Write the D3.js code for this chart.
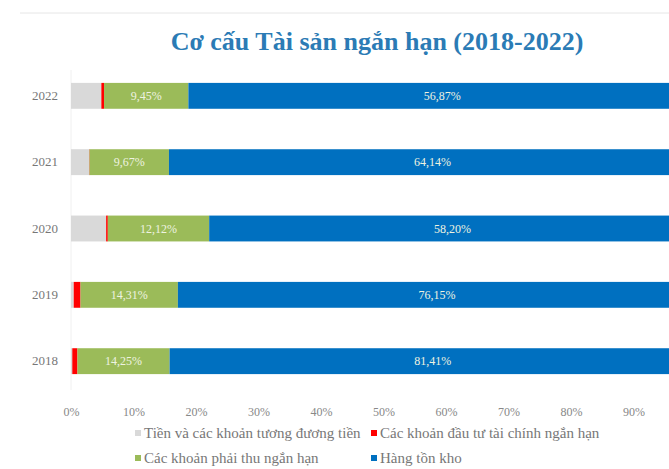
<html lang="vi">
<head>
<meta charset="utf-8">
<title>Cơ cấu Tài sản ngắn hạn</title>
<script src="https://d3js.org/d3.v7.min.js" charset="utf-8"></script>
<style>
  body { margin: 0; background: #fff; }
  svg text { font-family: "Liberation Serif", "Times New Roman", serif; }
</style>
</head>
<body>
<script>
// data (percent of total assets, other items left out)
var years = ["2022", "2021", "2020", "2019", "2018"]
var cash = [3.4, 2.2, 4.2, 0.4, 0.2]
var investments = [0.3, 0.05, 0.2, 1.0, 0.8]
var receivables = [9.45, 9.67, 12.12, 14.31, 14.25]
var inventory = [56.87, 64.14, 58.20, 76.15, 81.41]
var seriesNames = ["Tiền và các khoản tương đương tiền", "Các khoản đầu tư tài chính ngắn hạn",
                   "Các khoản phải thu ngắn hạn", "Hàng tồn kho"]
var colors = ["#d9d9d9", "#ff0000", "#9bbb59", "#0070c0"]
var tickValues = [0, 0.1, 0.2, 0.3, 0.4, 0.5, 0.6, 0.7, 0.8, 0.9]

var width = 669
var height = 469
var keys = ["cash", "investments", "receivables", "inventory"]

var rows = years.map(function(y, i) {
  return {year: y, cash: cash[i], investments: investments[i],
          receivables: receivables[i], inventory: inventory[i]}
})

var svg = d3.select("body").append("svg")
  .attr("width", width)
  .attr("height", height)

// top rule
svg.append("line")
  .attr("x1", 20).attr("x2", width)
  .attr("y1", 13).attr("y2", 13)
  .attr("stroke", "#e6e6e6")

svg.append("text")
  .attr("x", 377).attr("y", 50)
  .attr("text-anchor", "middle")
  .attr("font-size", 26)
  .attr("font-weight", "bold")
  .attr("fill", "#2b7bb5")
  .text("Cơ cấu Tài sản ngắn hạn (2018-2022)")

var x = d3.scaleLinear().domain([0, 1]).range([71, 696])
var y = d3.scaleBand().domain(years).range([63, 394]).paddingInner(0.61).paddingOuter(0.3)

var stack = d3.stack().keys(keys).offset(d3.stackOffsetExpand)
var layers = stack(rows)

// faint baseline
svg.append("line")
  .attr("x1", x(0)).attr("x2", x(0))
  .attr("y1", 70).attr("y2", 390)
  .attr("stroke", "#f0f0f0")

var g = svg.selectAll("g.layer")
  .data(layers)
  .enter().append("g")
  .attr("class", "layer")
  .attr("fill", function(d, i) { return colors[i] })

g.selectAll("rect")
  .data(function(d) { return d })
  .enter().append("rect")
  .attr("x", function(d) { return x(d[0]) })
  .attr("width", function(d) { return x(d[1]) - x(d[0]) })
  .attr("y", function(d) { return y(d.data.year) })
  .attr("height", y.bandwidth())

// value labels on receivables and inventory
var fmt = function(v) { return v.toFixed(2).replace(".", ",") + "%" }
layers.forEach(function(layer, i) {
  if (i < 2) return
  svg.append("g").selectAll("text")
    .data(layer)
    .enter().append("text")
    .attr("x", function(d) { return (x(d[0]) + x(d[1])) / 2 })
    .attr("y", function(d) { return y(d.data.year) + y.bandwidth() / 2 + 4 })
    .attr("text-anchor", "middle")
    .attr("font-size", 12)
    .attr("fill", "#eef3e0")
    .text(function(d) { return fmt(d.data[keys[i]]) })
})

// year labels
var yAxis = svg.append("g")
  .attr("transform", "translate(58,0)")
  .call(d3.axisLeft(y).tickSize(0).tickPadding(0))
yAxis.select(".domain").remove()
yAxis.selectAll("text")
  .attr("font-size", 13)
  .attr("fill", "#777")

// percent axis
var xAxis = svg.append("g")
  .attr("transform", "translate(0,401)")
  .call(d3.axisBottom(x).tickValues(tickValues).tickFormat(d3.format(".0%")).tickSize(0).tickPadding(6))
xAxis.select(".domain").remove()
xAxis.selectAll("text")
  .attr("font-size", 12)
  .attr("fill", "#888")

// legend
var legendPos = [[135, 438], [371, 438], [135, 463], [371, 463]]
var legend = svg.selectAll("g.legend")
  .data(seriesNames)
  .enter().append("g")
  .attr("class", "legend")
  .attr("transform", function(d, i) { return "translate(" + legendPos[i][0] + "," + legendPos[i][1] + ")" })

legend.append("rect")
  .attr("x", 0).attr("y", -8)
  .attr("width", 6).attr("height", 6)
  .attr("fill", function(d, i) { return colors[i] })

legend.append("text")
  .attr("x", 9).attr("y", 0)
  .attr("font-size", 15)
  .attr("fill", "#777")
  .text(function(d) { return d })
</script>
</body>
</html>
